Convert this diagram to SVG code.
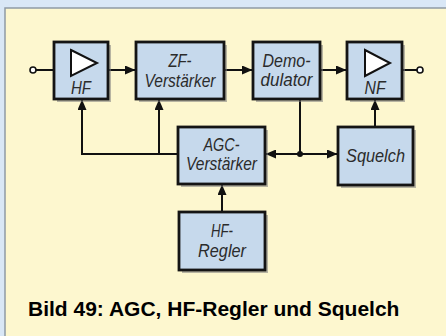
<svg xmlns="http://www.w3.org/2000/svg" width="446" height="336" viewBox="0 0 446 336">
  <defs>
    <marker id="arr" markerUnits="userSpaceOnUse" markerWidth="11" markerHeight="9" refX="10" refY="4.5" orient="auto">
      <path d="M0,0 L10.5,4.5 L0,9 Z" fill="#111"/>
    </marker>
    <style>
      .box { fill: #c6d9ec; stroke: #141414; stroke-width: 2.8; }
      .shadow { fill: #7d7d7d; opacity: 0.55; }
      .lbl { font-family: "Liberation Sans", Arial, sans-serif; font-style: italic; font-size: 17.5px; fill: #2b2b2b; text-anchor: middle; }
      .wire { fill: none; stroke: #111; stroke-width: 2; }
      .tri { fill: #ffffff; stroke: #111; stroke-width: 2; stroke-linejoin: miter; }
      .cap { font-family: "Liberation Sans", Arial, sans-serif; font-weight: bold; font-size: 21px; fill: #000; }
    </style>
  </defs>

  <rect x="0" y="0" width="446" height="336" fill="#d9e7f6"/>
  <rect x="5" y="8" width="441" height="328" fill="#fdf7cf"/>
  <path d="M5,336 L5,8 L446,8" fill="none" stroke="#8f9aa5" stroke-width="1.5"/>

  <g id="connectors">
    <line class="wire" x1="36" y1="70" x2="54" y2="70"/>
    <circle cx="33" cy="70" r="3" fill="#fff" stroke="#111" stroke-width="1.6"/>
    <line class="wire" x1="109" y1="70" x2="135" y2="70" marker-end="url(#arr)"/>
    <line class="wire" x1="224" y1="70" x2="252" y2="70" marker-end="url(#arr)"/>
    <line class="wire" x1="320" y1="70" x2="346" y2="70" marker-end="url(#arr)"/>
    <line class="wire" x1="402" y1="70" x2="417" y2="70"/>
    <circle cx="420" cy="70" r="3" fill="#fff" stroke="#111" stroke-width="1.6"/>
    <polyline class="wire" points="178,154 82,154 82,100" marker-end="url(#arr)"/>
    <line class="wire" x1="159" y1="154" x2="159" y2="100" marker-end="url(#arr)"/>
    <line class="wire" x1="300" y1="99" x2="300" y2="154"/>
    <line class="wire" x1="300" y1="154" x2="266" y2="154" marker-end="url(#arr)"/>
    <line class="wire" x1="300" y1="154" x2="337" y2="154" marker-end="url(#arr)"/>
    <circle cx="300" cy="154" r="3" fill="#111"/>
    <line class="wire" x1="375" y1="127" x2="375" y2="100" marker-end="url(#arr)"/>
    <line class="wire" x1="222" y1="212" x2="222" y2="185" marker-end="url(#arr)"/>
  </g>

  <g id="hf">
    <rect class="shadow" x="57" y="45" width="54" height="57"/>
    <rect class="box" x="54" y="42" width="54" height="57"/>
    <polygon class="tri" points="71,50 97,63 71,76"/>
    <text class="lbl" x="81" y="94" textLength="20" lengthAdjust="spacingAndGlyphs">HF</text>
  </g>

  <g id="zf">
    <rect class="shadow" x="139" y="45" width="88" height="57"/>
    <rect class="box" x="136" y="42" width="88" height="57"/>
    <text class="lbl" x="180" y="67" textLength="23" lengthAdjust="spacingAndGlyphs">ZF-</text>
    <text class="lbl" x="180" y="87" textLength="71" lengthAdjust="spacingAndGlyphs">Verstärker</text>
  </g>

  <g id="demod">
    <rect class="shadow" x="256" y="45" width="67" height="57"/>
    <rect class="box" x="253" y="42" width="67" height="57"/>
    <text class="lbl" x="286.5" y="67" textLength="48" lengthAdjust="spacingAndGlyphs">Demo-</text>
    <text class="lbl" x="286.5" y="86" textLength="52" lengthAdjust="spacingAndGlyphs">dulator</text>
  </g>

  <g id="nf">
    <rect class="shadow" x="350" y="45" width="55" height="57"/>
    <rect class="box" x="347" y="42" width="55" height="57"/>
    <polygon class="tri" points="365,50 390,63 365,76"/>
    <text class="lbl" x="375" y="94" textLength="21" lengthAdjust="spacingAndGlyphs">NF</text>
  </g>

  <g id="agc">
    <rect class="shadow" x="181" y="130" width="87" height="57"/>
    <rect class="box" x="178" y="127" width="87" height="57"/>
    <text class="lbl" x="221.5" y="151" textLength="36" lengthAdjust="spacingAndGlyphs">AGC-</text>
    <text class="lbl" x="221.5" y="170" textLength="71" lengthAdjust="spacingAndGlyphs">Verstärker</text>
  </g>

  <g id="squelch">
    <rect class="shadow" x="341" y="130" width="75" height="58"/>
    <rect class="box" x="338" y="127" width="75" height="58"/>
    <text class="lbl" x="375.5" y="162" textLength="59" lengthAdjust="spacingAndGlyphs">Squelch</text>
  </g>

  <g id="hfregler">
    <rect class="shadow" x="182" y="215" width="86" height="58"/>
    <rect class="box" x="179" y="212" width="86" height="58"/>
    <text class="lbl" x="222" y="237" textLength="22" lengthAdjust="spacingAndGlyphs">HF-</text>
    <text class="lbl" x="222" y="257" textLength="48" lengthAdjust="spacingAndGlyphs">Regler</text>
  </g>

  <text class="cap" x="28" y="316">Bild 49: AGC, HF-Regler und Squelch</text>
</svg>
